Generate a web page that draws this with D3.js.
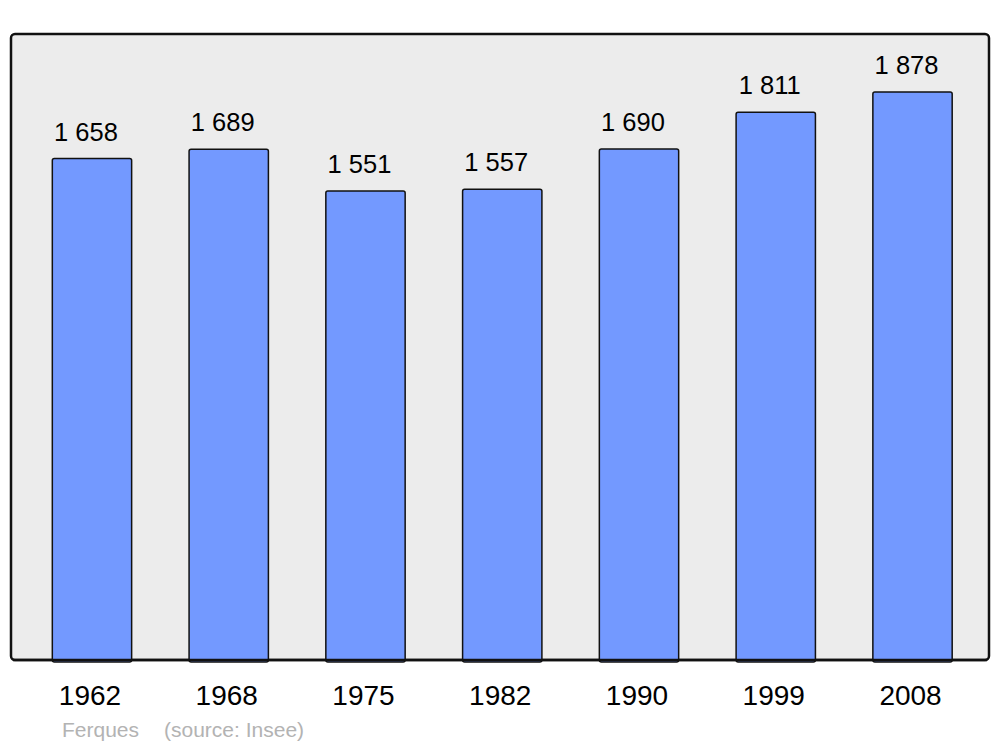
<!DOCTYPE html>
<html><head><meta charset="utf-8">
<script src="https://cdn.jsdelivr.net/npm/d3@7"></script>
<style>body{margin:0;background:#fff}svg{display:block}</style>
</head><body>
<script>
const years = ["1962","1968","1975","1982","1990","1999","2008"];
const population = [1658,1689,1551,1557,1690,1811,1878];
const valueLabels = ["1 658","1 689","1 551","1 557","1 690","1 811","1 878"];
const commune = "Ferques";
const source = "(source: Insee)";

const W = 1000, H = 747;
const svg = d3.select("body").append("svg").attr("width", W).attr("height", H);
const font = "'Liberation Sans', Arial, sans-serif";

const panel = {x0: 11, y0: 34, x1: 989, y1: 660};
svg.append("rect")
  .attr("x", panel.x0).attr("y", panel.y0)
  .attr("width", panel.x1 - panel.x0).attr("height", panel.y1 - panel.y0)
  .attr("rx", 4).attr("fill", "#ececec").attr("stroke", "#111").attr("stroke-width", 2.5);

const x = d3.scaleBand().domain(years).range([23.6, 980.9]).paddingInner(0.42).paddingOuter(0.21);
const y = d3.scaleLinear().domain([0, 2070]).range([panel.y1, panel.y0]);

const g = svg.append("g");
g.selectAll("rect.bar").data(population).join("rect")
  .attr("class", "bar")
  .attr("x", (d, i) => x(years[i]))
  .attr("y", d => y(d))
  .attr("width", x.bandwidth())
  .attr("height", d => panel.y1 - y(d) + 2)
  .attr("rx", 2)
  .attr("fill", "#7399ff").attr("stroke", "#111").attr("stroke-width", 1.5);

// redraw panel bottom line on top
svg.append("line").attr("x1", panel.x0 + 2).attr("x2", panel.x1 - 2)
  .attr("y1", panel.y1).attr("y2", panel.y1)
  .attr("stroke", "#111").attr("stroke-width", 2.5);

g.selectAll("text.val").data(population).join("text")
  .attr("class", "val")
  .attr("x", (d, i) => x(years[i]) + x.bandwidth() / 2 - 6)
  .attr("y", d => y(d) - 18)
  .attr("text-anchor", "middle")
  .attr("font-family", font).attr("font-size", 25.5).attr("fill", "#000")
  .text((d, i) => valueLabels[i]);

const axis = d3.axisBottom(x).tickSize(0).tickPadding(0);
const ax = svg.append("g").attr("transform", `translate(-2,${705})`).call(axis);
ax.select(".domain").remove();
ax.selectAll("text").attr("font-family", font).attr("font-size", 28).attr("fill", "#000").attr("dy", 0);

svg.append("text").attr("x", 62).attr("y", 737)
  .attr("font-family", font).attr("font-size", 21).attr("fill", "#b3b3b3")
  .text(commune);
svg.append("text").attr("x", 164).attr("y", 737)
  .attr("font-family", font).attr("font-size", 21).attr("fill", "#b3b3b3")
  .text(source);
</script>
</body></html>
